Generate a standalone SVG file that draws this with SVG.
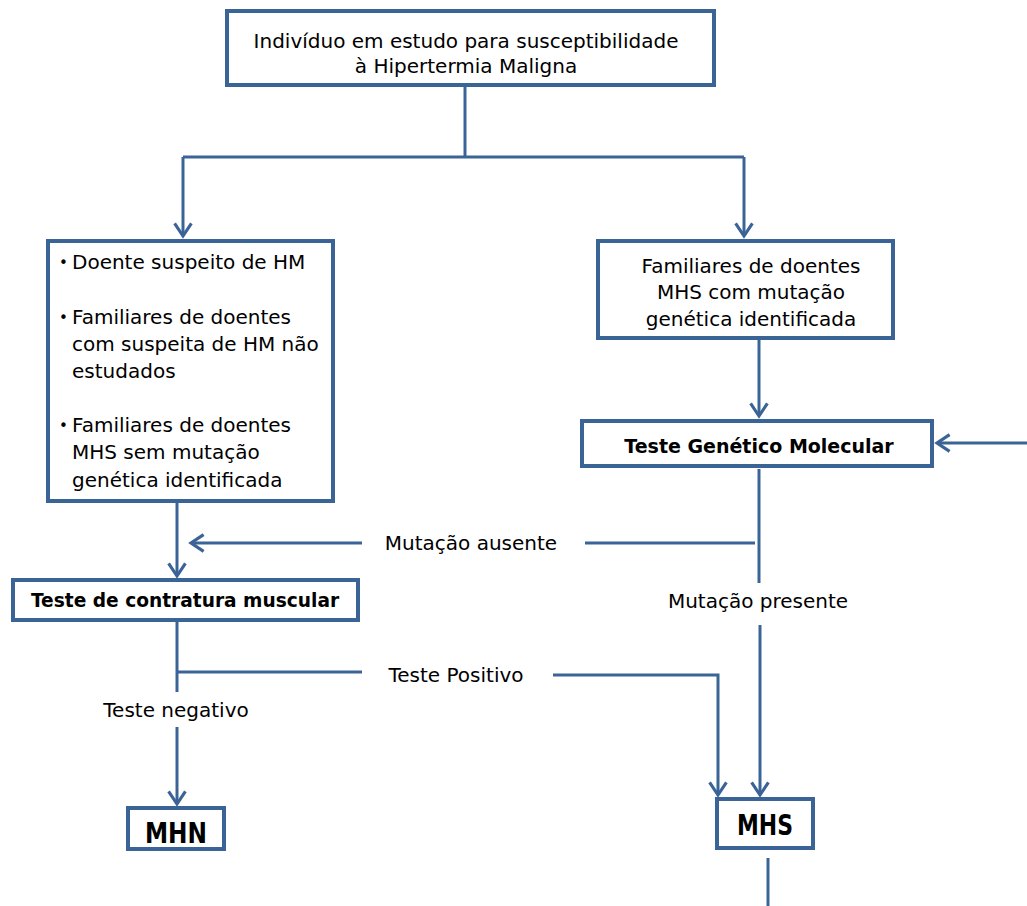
<svg xmlns="http://www.w3.org/2000/svg" width="1027" height="906" viewBox="0 0 1027 906">
<style>
.box{fill:#fff;stroke:#3a6496;stroke-width:4}
.ln{fill:none;stroke:#3a6496;stroke-width:3}
.t{font-family:"DejaVu Sans",Verdana,sans-serif;font-size:20px;fill:#000}
.bl{font-family:"DejaVu Sans",Verdana,sans-serif;font-size:15px;fill:#000}
.b{font-family:"DejaVu Sans",Verdana,sans-serif;font-size:19px;font-weight:bold;fill:#000}
.big{font-family:"DejaVu Sans",Verdana,sans-serif;font-size:28px;font-weight:bold;fill:#000}
.c{text-anchor:middle}
</style>
<defs>
<marker id="ah" viewBox="0 0 20 20" refX="17" refY="10" markerWidth="7" markerHeight="7" orient="auto" markerUnits="strokeWidth">
<path d="M5,2 L17,10 L5,18" fill="none" stroke="#3a6496" stroke-width="3"/>
</marker>
</defs>
<g id="connectors">
<path class="ln" d="M465,85 V157"/>
<path class="ln" d="M183,157 H744"/>
<path class="ln" d="M183,157 V236" marker-end="url(#ah)"/>
<path class="ln" d="M744,157 V236" marker-end="url(#ah)"/>
<path class="ln" d="M759,338 V416" marker-end="url(#ah)"/>
<path class="ln" d="M1027,443 H937" marker-end="url(#ah)"/>
<path class="ln" d="M759,469 V583"/>
<path class="ln" d="M585,543 H755"/>
<path class="ln" d="M362,543 H191" marker-end="url(#ah)"/>
<path class="ln" d="M177,502 V576" marker-end="url(#ah)"/>
<path class="ln" d="M760,625 V795" marker-end="url(#ah)"/>
<path class="ln" d="M177,622 V692"/>
<path class="ln" d="M177,672 H362"/>
<path class="ln" d="M177,727 V804" marker-end="url(#ah)"/>
<path class="ln" d="M553,675 H718 V795" marker-end="url(#ah)"/>
<path class="ln" d="M768,858 V906"/>
</g>
<g id="n-top">
<rect class="box" x="227" y="11" width="487" height="74"/>
<text class="t c" x="466" y="48">Indivíduo em estudo para susceptibilidade</text>
<text class="t c" x="466" y="73">à Hipertermia Maligna</text>
</g>
<g id="n-left">
<rect class="box" x="48" y="241" width="285" height="260"/>
<text class="bl" x="59" y="268">•</text>
<text class="t" x="72" y="269">Doente suspeito de HM</text>
<text class="bl" x="59" y="323">•</text>
<text class="t" x="72" y="324">Familiares de doentes</text>
<text class="t" x="72" y="351">com suspeita de HM não</text>
<text class="t" x="72" y="378">estudados</text>
<text class="bl" x="59" y="431">•</text>
<text class="t" x="72" y="432">Familiares de doentes</text>
<text class="t" x="72" y="459">MHS sem mutação</text>
<text class="t" x="72" y="487">genética identificada</text>
</g>
<g id="n-right">
<rect class="box" x="598" y="241" width="295" height="97"/>
<text class="t c" x="751" y="273">Familiares de doentes</text>
<text class="t c" x="751" y="299">MHS com mutação</text>
<text class="t c" x="751" y="326">genética identificada</text>
</g>
<g id="n-tgm">
<rect class="box" x="582" y="421" width="350" height="45"/>
<text class="b c" x="759" y="453">Teste Genético Molecular</text>
</g>
<g id="n-tcm">
<rect class="box" x="13" y="580" width="345" height="40"/>
<text class="b c" x="185" y="607" style="font-size:18.6px">Teste de contratura muscular</text>
</g>
<g id="n-mhn">
<rect class="box" x="128" y="808" width="96" height="41"/>
<text class="big c" x="176" y="843" textLength="62" lengthAdjust="spacingAndGlyphs">MHN</text>
</g>
<g id="n-mhs">
<rect class="box" x="717" y="799" width="96" height="49"/>
<text class="big c" x="765" y="835" textLength="56" lengthAdjust="spacingAndGlyphs">MHS</text>
</g>
<g id="labels">
<text class="t c" x="471" y="550">Mutação ausente</text>
<text class="t c" x="758" y="608">Mutação presente</text>
<text class="t c" x="456" y="682">Teste Positivo</text>
<text class="t c" x="176" y="717">Teste negativo</text>
</g>
</svg>
